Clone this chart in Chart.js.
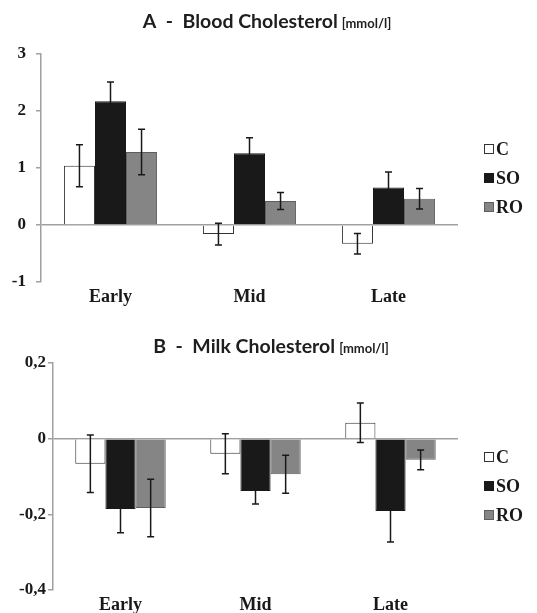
<!DOCTYPE html>
<html>
<head>
<meta charset="utf-8">
<script src="https://cdn.jsdelivr.net/npm/chart.js@4.4.0/dist/chart.umd.min.js"></script>
<style>
  body { margin: 0; background: #fff; }
  canvas { position: absolute; left: 0; }
</style>
</head>
<body>
<canvas id="chartA" width="537" height="306" style="top:0"></canvas>
<canvas id="chartB" width="537" height="307" style="top:306px"></canvas>
<script>
/* data */
const categories = ['Early', 'Mid', 'Late'];
const groups = ['C', 'SO', 'RO'];

// A - blood cholesterol, mmol/l
const bloodC = [1.04, -0.16, -0.33];
const bloodSO = [2.17, 1.26, 0.66];
const bloodRO = [1.28, 0.42, 0.46];
const bloodErrC = [0.37, 0.19, 0.18];
const bloodErrSO = [0.34, 0.27, 0.27];
const bloodErrRO = [0.40, 0.15, 0.18];
const bloodTicks = [-1, 0, 1, 2, 3];

// B - milk cholesterol, mmol/l
const milkC = [-0.066, -0.040, 0.042];
const milkSO = [-0.186, -0.138, -0.191];
const milkRO = [-0.183, -0.094, -0.056];
const milkErrC = [0.076, 0.053, 0.052];
const milkErrSO = [0.063, 0.035, 0.082];
const milkErrRO = [0.076, 0.050, 0.026];
const milkTicks = [-0.4, -0.2, 0, 0.2];

const ink = '#191919';
const fills = ['#ffffff', ink, '#858585'];
const borders = ['#333333', ink, '#5e5e5e'];
const axisGrey = '#a0a0a0';
const serif = 'Liberation Serif';

/* plugins */

const errorBars = {
  id: 'errorBars',
  afterDatasetsDraw(chart) {
    const ctx = chart.ctx;
    const y = chart.scales.y;
    ctx.save();
    ctx.strokeStyle = ink;
    ctx.lineWidth = 1.5;
    chart.data.datasets.forEach(function(ds, i) {
      const meta = chart.getDatasetMeta(i);
      meta.data.forEach(function(bar, j) {
        const v = ds.data[j];
        const e = ds.errors[j];
        const top = y.getPixelForValue(v + e);
        const bot = y.getPixelForValue(v - e);
        ctx.beginPath();
        ctx.moveTo(bar.x, top);
        ctx.lineTo(bar.x, bot);
        ctx.moveTo(bar.x - 3.5, top);
        ctx.lineTo(bar.x + 3.5, top);
        ctx.moveTo(bar.x - 3.5, bot);
        ctx.lineTo(bar.x + 3.5, bot);
        ctx.stroke();
      });
    });
    ctx.restore();
  }
};

function makeTitle(main, unit, cx, baseline) {
  return {
    id: 'splitTitle',
    afterDraw(chart) {
      const ctx = chart.ctx;
      ctx.save();
      ctx.fillStyle = '#1e1e1e';
      ctx.textBaseline = 'alphabetic';
      ctx.textAlign = 'left';
      const f1 = 'bold 19.5px Lato';
      const f2 = 'bold 13px Lato';
      ctx.font = f1;
      const w1 = ctx.measureText(main).width;
      ctx.font = f2;
      const w2 = ctx.measureText(unit).width;
      const x0 = cx - (w1 + 4 + w2) / 2;
      ctx.font = f1;
      ctx.fillText(main, x0, baseline);
      ctx.font = f2;
      ctx.fillText(unit, x0 + w1 + 4, baseline);
      ctx.restore();
    }
  };
}

function makeLegend(x, y0, gap) {
  return {
    id: 'sideLegend',
    afterDraw(chart) {
      const ctx = chart.ctx;
      ctx.save();
      ctx.font = 'bold 18px "' + serif + '"';
      ctx.textBaseline = 'middle';
      ctx.textAlign = 'left';
      chart.data.datasets.forEach(function(ds, i) {
        const yy = y0 + i * gap;
        ctx.fillStyle = ds.backgroundColor;
        ctx.fillRect(x, yy - 5, 10, 10);
        ctx.strokeStyle = ds.borderColor;
        ctx.lineWidth = 1;
        ctx.strokeRect(x + 0.5, yy - 4.5, 9, 9);
        ctx.fillStyle = ink;
        ctx.fillText(ds.label, x + 12, yy + 1);
      });
      ctx.restore();
    }
  };
}

function makeDatasets(values, errors) {
  return groups.map(function(name, i) {
    return {
      label: name,
      data: values[i],
      errors: errors[i],
      backgroundColor: fills[i],
      borderColor: borders[i],
      borderWidth: 1,
      categoryPercentage: 0.67,
      barPercentage: 1
    };
  });
}

function makeOptions(cfg) {
  return {
    responsive: false,
    animation: false,
    layout: { padding: { top: cfg.top, right: 79, left: 0, bottom: 0 } },
    plugins: {
      legend: { display: false },
      tooltip: { enabled: false },
      title: { display: false }
    },
    scales: {
      x: {
        grid: { display: false, drawTicks: false },
        border: { display: false },
        ticks: {
          color: ink,
          padding: cfg.xPad,
          font: { family: serif, size: 18, weight: 'bold' }
        },
        afterFit: function(s) { s.height = cfg.xHeight; }
      },
      y: {
        min: cfg.ticks[0],
        max: cfg.ticks[cfg.ticks.length - 1],
        afterBuildTicks: function(s) {
          s.ticks = cfg.ticks.map(function(v) { return { value: v }; });
        },
        ticks: {
          color: ink,
          padding: cfg.yPad,
          font: { family: serif, size: 17, weight: 'bold' },
          callback: cfg.format
        },
        grid: {
          color: function(c) {
            return c.tick && c.tick.value === 0 ? axisGrey : 'rgba(0,0,0,0)';
          },
          tickColor: axisGrey,
          tickLength: 5,
          lineWidth: 1.5
        },
        border: { color: axisGrey, width: 1.5 },
        afterFit: function(s) { s.width = cfg.yWidth; }
      }
    }
  };
}

/* chart A */
new Chart(document.getElementById('chartA'), {
  type: 'bar',
  data: {
    labels: categories,
    datasets: makeDatasets([bloodC, bloodSO, bloodRO], [bloodErrC, bloodErrSO, bloodErrRO])
  },
  options: makeOptions({
    top: 54, xHeight: 24, xPad: 5, yWidth: 41, yPad: 10,
    ticks: bloodTicks,
    format: function(v) { return String(v); }
  }),
  plugins: [errorBars, makeTitle('A  -  Blood Cholesterol', '[mmol/l]', 267, 28), makeLegend(484, 149, 29)]
});

/* chart B */
new Chart(document.getElementById('chartB'), {
  type: 'bar',
  data: {
    labels: categories,
    datasets: makeDatasets([milkC, milkSO, milkRO], [milkErrC, milkErrSO, milkErrRO])
  },
  options: makeOptions({
    top: 57, xHeight: 23, xPad: 5, yWidth: 53, yPad: 2,
    ticks: milkTicks,
    format: function(v) {
      const r = Math.round(v * 10) / 10;
      return r === 0 ? '0' : String(r).replace('.', ',');
    }
  }),
  plugins: [errorBars, makeTitle('B  -  Milk Cholesterol', '[mmol/l]', 271, 47), makeLegend(484, 151, 29)]
});
</script>
</body>
</html>
